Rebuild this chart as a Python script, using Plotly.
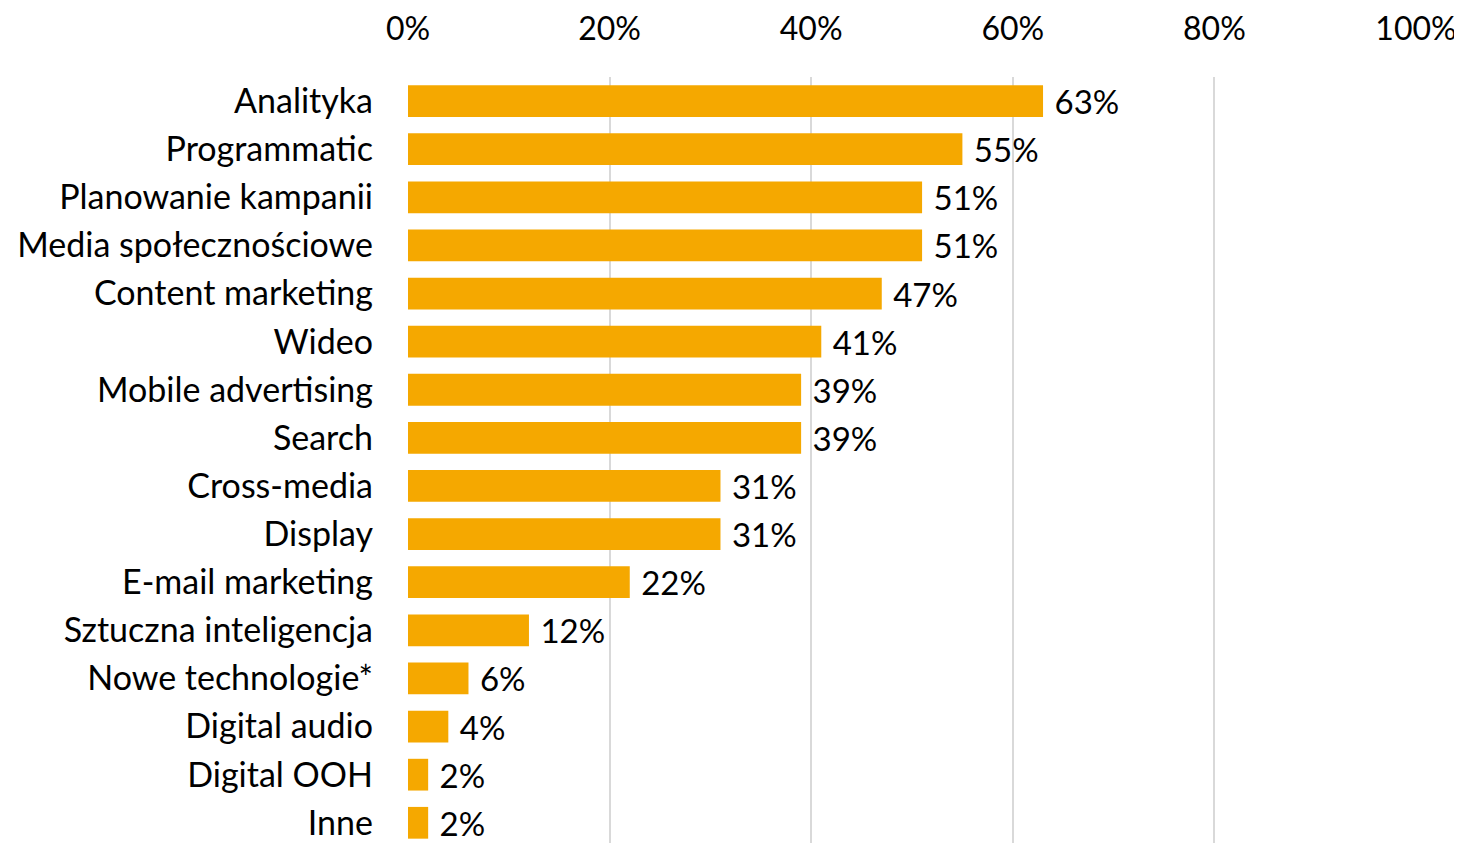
import plotly.graph_objects as go

categories = ["Analityka", "Programmatic", "Planowanie kampanii", "Media społecznościowe",
              "Content marketing", "Wideo", "Mobile advertising", "Search", "Cross-media",
              "Display", "E-mail marketing", "Sztuczna inteligencja", "Nowe technologie*",
              "Digital audio", "Digital OOH", "Inne"]
values = [63, 55, 51, 51, 47, 41, 39, 39, 31, 31, 22, 12, 6, 4, 2, 2]
tick_vals = [0, 20, 40, 60, 80, 100]
tick_text = ["0%", "20%", "40%", "60%", "80%", "100%"]

FONT = "Lato, 'Open Sans', sans-serif"
FS = 33

fig = go.Figure(go.Bar(
    x=values, y=categories, orientation="h",
    marker=dict(color="#F5A800", line=dict(width=0)),
    text=[f"{v}%" for v in values],
    texttemplate=" %{text}",
    textposition="outside",
    constraintext="none",
    textfont=dict(family=FONT, size=FS, color="#000000"),
    cliponaxis=False,
    width=0.66,
))

fig.update_layout(
    width=1454, height=835,
    margin=dict(l=400, r=46, t=67, b=0, pad=0),
    paper_bgcolor="white", plot_bgcolor="white",
    showlegend=False,
    font=dict(family=FONT, size=FS, color="#000000"),
    xaxis=dict(side="top", range=[0, 100], tickvals=tick_vals, ticktext=tick_text,
               showgrid=True, gridcolor="#D9D9D9", gridwidth=2, zeroline=False,
               showline=False, ticks="", ticklabelstandoff=30,
               tickfont=dict(family=FONT, size=32, color="#000000")),
    yaxis=dict(categoryorder="array", categoryarray=categories,
               range=[15.42, -0.5], showgrid=False, zeroline=False, showline=False,
               ticks="", ticklabelstandoff=34,
               tickfont=dict(family=FONT, size=34, color="#000000")),
)

fig.write_html("out.html")
